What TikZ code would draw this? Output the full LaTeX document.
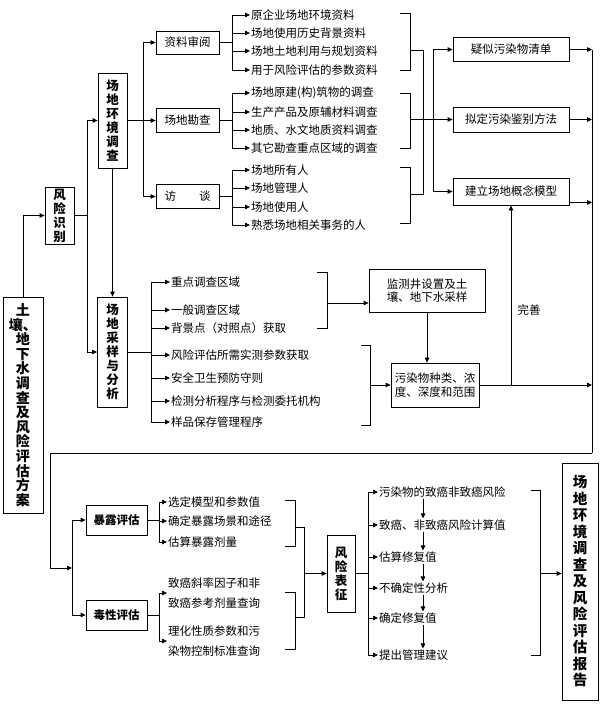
\documentclass[tikz,border=0pt]{standalone}
\usepackage{fontspec}
\setmainfont{Noto Sans CJK SC}
\usetikzlibrary{arrows.meta,calc}
\begin{document}
\begin{tikzpicture}[x=1pt,y=-1pt,
  ln/.style={line width=0.8pt},
  arr/.style={ln,-{Triangle[length=5pt,width=4.5pt]}},
  box/.style={draw,line width=0.8pt,inner sep=0pt,align=center,font=\fontsize{11.5}{13.5}\selectfont},
  vbox/.style={box,font=\bfseries\fontsize{12.5}{14}\selectfont},
  item/.style={anchor=west,inner sep=1pt,align=left,font=\fontsize{11.5}{21}\selectfont}]
\useasboundingbox (0,0) rectangle (600,704);
% main boxes
\node[vbox,minimum width=40,minimum height=216,font=\bfseries\fontsize{14}{14.6}\selectfont] (root) at (23,405) {土\\壤、\\地\\下\\水\\调\\查\\及\\风\\险\\评\\估\\方\\案};
\node[vbox,minimum width=29,minimum height=57] (fxsb) at (59.5,215.5) {风\\险\\识\\别};
\node[vbox,minimum width=29,minimum height=95] (hjdc) at (112.5,120.5) {场\\地\\环\\境\\调\\查};
\node[vbox,minimum width=30,minimum height=110] (cyfx) at (112.5,352) {场\\地\\采\\样\\与\\分\\析};
\node[box,minimum width=63,minimum height=23] (zlsy) at (187.5,42.5) {资料审阅};
\node[box,minimum width=63,minimum height=24] (cdkc) at (187.5,120.5) {场地勘查};
\node[box,minimum width=63,minimum height=24] (ft) at (187.5,196.5) {访\hspace{2em}谈};
\node[box,minimum width=116,minimum height=24] (ys) at (511,49.5) {疑似污染物清单};
\node[box,minimum width=116,minimum height=25] (nd) at (511,119.5) {拟定污染鉴别方法};
\node[box,minimum width=116,minimum height=27] (jl) at (511,191.5) {建立场地概念模型};
\node[box,minimum width=116,minimum height=43] (jc) at (427,290.5) {监测井设置及土\\壤、地下水采样};
\node[box,minimum width=88,minimum height=44] (wr) at (435,385) {污染物种类、浓\\度、深度和范围};
\node[box,minimum width=61,minimum height=30,font=\bfseries\fontsize{11.5}{13}\selectfont] (bl) at (116.5,520) {暴露评估};
\node[box,minimum width=61,minimum height=30,font=\bfseries\fontsize{11.5}{13}\selectfont] (dx) at (116.5,615) {毒性评估};
\node[vbox,minimum width=28,minimum height=77] (fxbz) at (341,573.5) {风\\险\\表\\征};
\node[vbox,minimum width=36,minimum height=237,font=\bfseries\fontsize{14.5}{16.5}\selectfont] (bg) at (580,581.5) {场\\地\\环\\境\\调\\查\\及\\风\\险\\评\\估\\报\\告};
% items group 1
\foreach \n/\y/\t in {a1/15/原企业场地环境资料,a2/33/场地使用历史背景资料,a3/51/场地土地利用与规划资料,a4/70/用于风险评估的参数资料,
  b1/93/场地原建(构)筑物的调查,b2/112/生产产品及原辅材料调查,b3/130/地质、水文地质资料调查,b4/148/其它勘查重点区域的调查,
  c1/170/场地所有人,c2/188/场地管理人,c3/207/场地使用人,c4/225/熟悉场地相关事务的人}
  \node[item] (\n) at (250,\y) {\t};
\foreach \n/\y/\t in {d1/282/重点调查区域,d2/310/一般调查区域,d3/328/背景点（对照点）获取,d4/355/风险评估所需实测参数获取,d5/378/安全卫生预防守则,d6/401/检测分析程序与检测委托机构,d7/422/样品保存管理程序}
  \node[item] (\n) at (170,\y) {\t};
\foreach \n/\y/\t in {e1/502/选定模型和参数值,e2/521/确定暴露场景和途径,e3/542/估算暴露剂量}
  \node[item] (\n) at (167,\y) {\t};
\node[item,font=\fontsize{11.5}{20}\selectfont] (f1) at (167,593) {致癌斜率因子和非\\致癌参考剂量查询};
\node[item,font=\fontsize{11.5}{20}\selectfont] (f2) at (167,641) {理化性质参数和污\\染物控制标准查询};
\foreach \n/\y/\t in {r1/492/污染物的致癌非致癌风险,r2/525/致癌、非致癌风险计算值,r3/557/估算修复值,r4/588/不确定性分析,r5/618/确定修复值,r6/655/提出管理建议}
  \node[item] (\n) at (378,\y) {\t};
\node[font=\fontsize{11.5}{13}\selectfont] (ws) at (529,310) {完善};
% coordinates
\coordinate (v1t) at (87,120.5); \coordinate (v1b) at (87,352);
\coordinate (v2t) at (143,42.5); \coordinate (v2b) at (143,196.5);
\coordinate (X232) at (232,0); \coordinate (X151) at (151,0); \coordinate (X159) at (159,0);
\coordinate (X368) at (368,0); \coordinate (X423) at (423,0); \coordinate (X592) at (592,0);
\coordinate (ret) at (592,453); \coordinate (retl) at (50,453); \coordinate (v3t) at (72,520); \coordinate (v3b) at (72,615);
% top part
\draw[arr] (root.north) |- (fxsb.west);
\draw[ln] (fxsb.east) -- (fxsb.east -| v1t);
\draw[ln] (v1t) -- (v1b);
\draw[arr] (v1t) -- (hjdc.west);
\draw[arr] (v1b) -- (cyfx.west);
\draw[arr] (hjdc.south) -- (cyfx.north);
\draw[ln] (hjdc.east) -- (hjdc.east -| v2t);
\draw[ln] (v2t) -- (v2b);
\draw[arr] (v2t) -- (zlsy.west);
\draw[arr] (v2t |- cdkc) -- (cdkc.west);
\draw[arr] (v2b) -- (ft.west);
\foreach \b/\p in {zlsy/a,cdkc/b,ft/c}{
  \draw[ln] (\b.east) -- (\b.east -| X232);
  \draw[ln] (\p1.west -| X232) -- (\p4.west -| X232);
  \foreach \i in {1,...,4} \draw[arr] (\p\i.west -| X232) -- (\p\i.west);
}
% brackets top
\draw[ln] (400,13) -- (410,13) -- (410,70) -- (400,70);
\draw[ln] (400,93) -- (410,93) -- (410,148) -- (400,148);
\draw[ln] (400,167) -- (410,167) -- (410,223) -- (400,223);
\draw[ln] (410,50) -- (423,50) -- (423,194) -- (410,194);
\draw[arr] (410,119.5) -- (nd.west);
\draw[ln] (433,49.5) -- (433,191.5);
\draw[arr] (433,49.5) -- (ys.west);
\draw[arr] (433,191.5) -- (jl.west);
\draw[arr] (ys.east) -- (ys.east -| X592);
\draw[arr] (nd.east) -- (nd.east -| X592);
\draw[arr] ($(jl.south east)+(0,-3)$) -- ($(jl.south east -| X592)+(0,-3)$);
\draw[ln] (ys.east -| X592) -- (ret);
% middle
\draw[ln] (cyfx.east) -- (cyfx.east -| X151);
\draw[ln] (d1.west -| X151) -- (d7.west -| X151);
\foreach \i in {1,...,7} \draw[arr] (d\i.west -| X151) -- (d\i.west);
\draw[ln] (317,272) -- (327,272) -- (327,328) -- (317,328);
\draw[arr] (327,303) -- (jc.west |- 0,303);
\draw[ln] (361,345) -- (370,345) -- (370,425) -- (361,425);
\draw[arr] (370,385) -- (wr.west);
\draw[arr] (jc.south) -- (jc.south |- wr.north);
\draw[arr] (wr.east) -- (wr.east -| X592);
\draw[arr] (wr.east -| jl.south) -- (jl.south);
% return
\draw[ln] (ret) -- (retl) -- (50,568);
\draw[arr] (50,568) -- (72,568);
\draw[ln] (v3t) -- (v3b);
\draw[arr] (v3t) -- (bl.west);
\draw[arr] (v3b) -- (dx.west);
% bottom
\draw[ln] (bl.east) -- (bl.east -| X159);
\draw[ln] (e1.west -| X159) -- (e3.west -| X159);
\foreach \i in {1,2,3} \draw[arr] (e\i.west -| X159) -- (e\i.west);
\draw[ln] (dx.east) -- (dx.east -| X159);
\draw[ln] (f1.west -| X159) -- (f2.west -| X159);
\draw[arr] (f1.west -| X159) -- (f1.west);
\draw[arr] (f2.west -| X159) -- (f2.west);
\draw[ln] (285,500) -- (295,500) -- (295,546) -- (285,546);
\draw[ln] (285,592) -- (295,592) -- (295,649) -- (285,649);
\draw[ln] (295,527) -- (304,527) -- (304,617) -- (295,617);
\draw[arr] (304,573.5) -- (fxbz.west);
\draw[ln] (fxbz.east) -- (fxbz.east -| X368);
\draw[ln] (r1.west -| X368) -- (r6.west -| X368);
\foreach \i in {1,...,6} \draw[arr] (r\i.west -| X368) -- (r\i.west);
\foreach \i/\j in {1/2,2/3,3/4,4/5,5/6} \draw[arr] (r\i.south -| X423) -- (r\j.north -| X423);
\draw[ln] (531,490) -- (540,490) -- (540,655) -- (531,655);
\draw[arr] (540,573.5) -- (bg.west |- 0,573.5);
\end{tikzpicture}
\end{document}
